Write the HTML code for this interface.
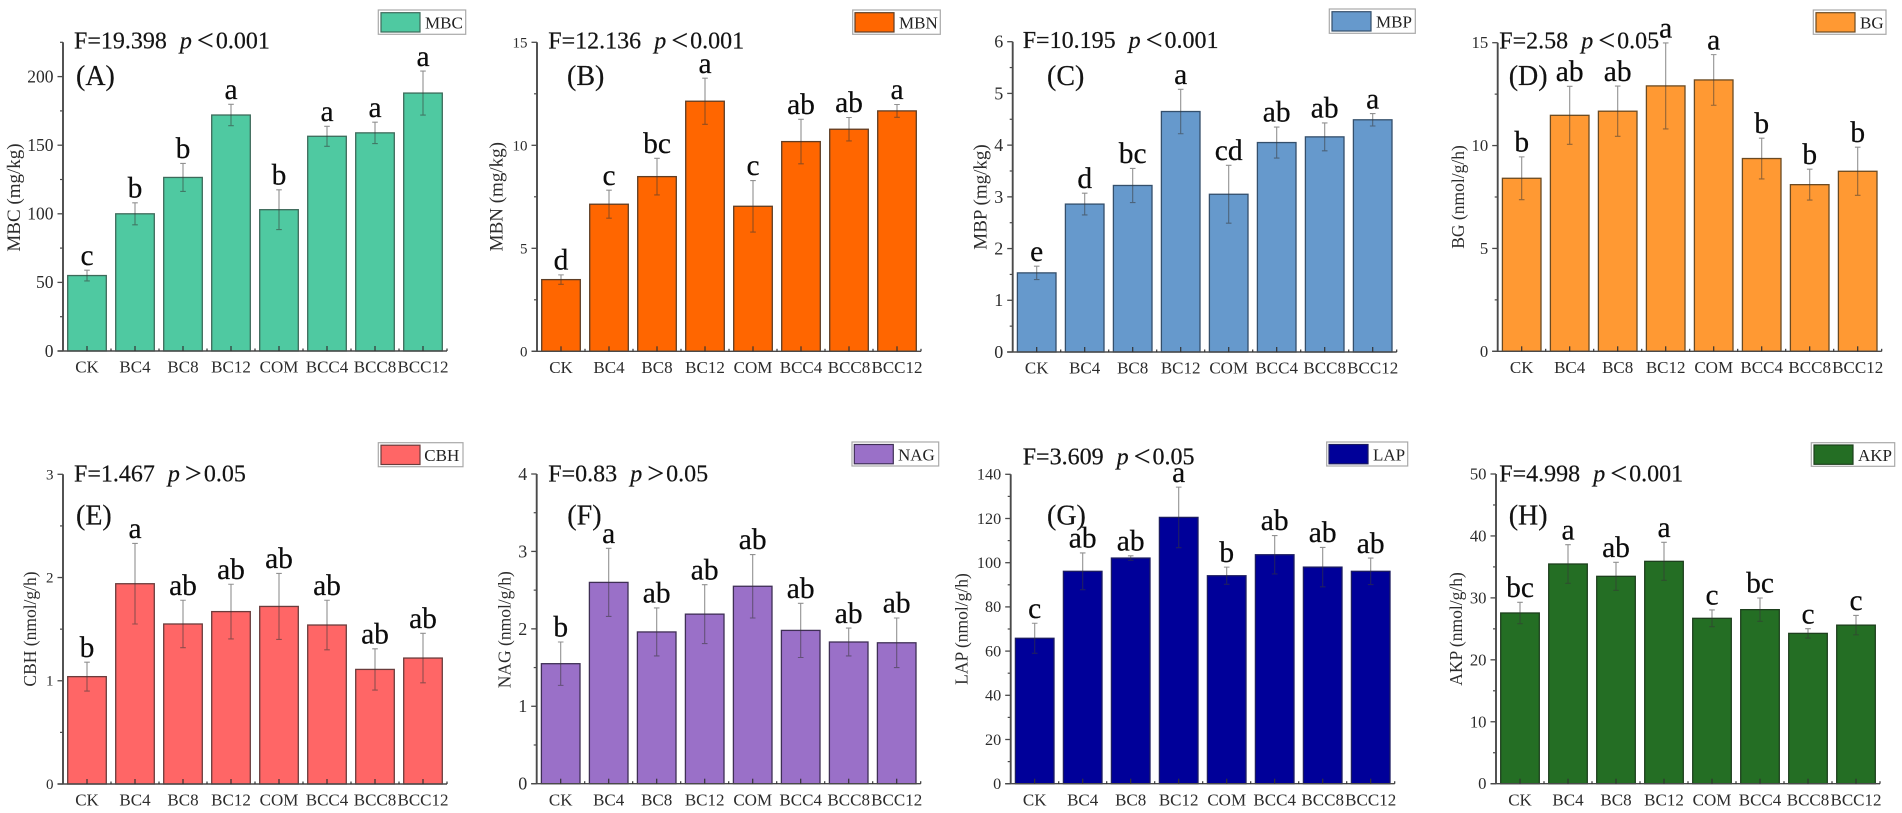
<!DOCTYPE html>
<html lang="en">
<head>
<meta charset="utf-8">
<title>Soil microbial biomass and enzyme activity bar charts</title>
<style>
  html, body { margin: 0; padding: 0; background: #fff; }
  svg { display: block; font-family: "Liberation Serif", "Times New Roman", serif; filter: blur(0.3px); }
  text { fill: #141414; }
  .stat { font-size: 24px; stroke: #141414; stroke-width: 0.2; }
  .cmp { font-size: 30px; }
  .panel-tag { font-size: 28px; stroke: #141414; stroke-width: 0.2; }
  .leg-text { font-size: 17px; fill: #222; }
  .leg-box { fill: #fff; stroke: #a9a9a9; stroke-width: 1.2; }
  .y-title { fill: #2c2c2c; text-anchor: middle; }
  .tick-label { fill: #2c2c2c; }
  .sig { font-size: 29.5px; fill: #0c0c0c; text-anchor: middle; stroke: #0c0c0c; stroke-width: 0.2; }
</style>
</head>
<body>
<svg id="figure" xmlns="http://www.w3.org/2000/svg" width="1902" height="813" viewBox="0 0 1902 813">
  <rect width="1902" height="813" fill="#fff"/>

  <g id="panel-mbc">
    <g class="marks"></g>
    <text class="stat" x="74" y="48.3">F=19.398<tspan dx="13" font-style="italic">p</tspan><tspan class="cmp" dx="5" dy="1.5">&lt;</tspan><tspan dx="2" dy="-1.5">0.001</tspan></text>
    <text class="panel-tag" x="76" y="85">(A)</text>
    <text class="y-title" font-size="19" transform="translate(20,197.5) rotate(-90)">MBC (mg/kg)</text>
    <g>
      <rect class="leg-box" x="378.3" y="10" width="87.4" height="24.3"/>
      <rect x="381" y="12.7" width="39" height="19.3" fill="#4fc9a1" stroke="#3d6a5a" stroke-width="1.2"/>
      <text class="leg-text" x="425" y="28.3">MBC</text>
    </g>
  </g>

  <g id="panel-mbn">
    <g class="marks"></g>
    <text class="stat" x="548.3" y="48.3">F=12.136<tspan dx="13" font-style="italic">p</tspan><tspan class="cmp" dx="5" dy="1.5">&lt;</tspan><tspan dx="2" dy="-1.5">0.001</tspan></text>
    <text class="panel-tag" x="567" y="85">(B)</text>
    <text class="y-title" font-size="19" transform="translate(502.7,196.7) rotate(-90)">MBN (mg/kg)</text>
    <g>
      <rect class="leg-box" x="852.7" y="10" width="87.6" height="24.3"/>
      <rect x="855" y="12.7" width="39" height="19.3" fill="#ff6600" stroke="#5f3d24" stroke-width="1.2"/>
      <text class="leg-text" x="899" y="28.3">MBN</text>
    </g>
  </g>

  <g id="panel-mbp">
    <g class="marks"></g>
    <text class="stat" x="1022.7" y="48">F=10.195<tspan dx="13" font-style="italic">p</tspan><tspan class="cmp" dx="5" dy="1.5">&lt;</tspan><tspan dx="2" dy="-1.5">0.001</tspan></text>
    <text class="panel-tag" x="1047" y="85">(C)</text>
    <text class="y-title" font-size="19" transform="translate(986.7,197) rotate(-90)">MBP (mg/kg)</text>
    <g>
      <rect class="leg-box" x="1329.3" y="9" width="86" height="24.3"/>
      <rect x="1332" y="11.7" width="39" height="19.3" fill="#6699cc" stroke="#344f6b" stroke-width="1.2"/>
      <text class="leg-text" x="1376" y="27.5">MBP</text>
    </g>
  </g>

  <g id="panel-bg">
    <g class="marks"></g>
    <text class="stat" x="1499.3" y="48.3">F=2.58<tspan dx="13" font-style="italic">p</tspan><tspan class="cmp" dx="5" dy="1.5">&lt;</tspan><tspan dx="2" dy="-1.5">0.05</tspan></text>
    <text class="panel-tag" x="1508.7" y="85">(D)</text>
    <text class="y-title" font-size="17.5" transform="translate(1464,197) rotate(-90)">BG (nmol/g/h)</text>
    <g>
      <rect class="leg-box" x="1813.3" y="10" width="72.7" height="24.3"/>
      <rect x="1816" y="12.7" width="39" height="19.3" fill="#ff9933" stroke="#6b4a22" stroke-width="1.2"/>
      <text class="leg-text" x="1860" y="28.3">BG</text>
    </g>
  </g>

  <g id="panel-cbh">
    <g class="marks"></g>
    <text class="stat" x="74" y="481.7">F=1.467<tspan dx="13" font-style="italic">p</tspan><tspan class="cmp" dx="5" dy="1.5">&gt;</tspan><tspan dx="2" dy="-1.5">0.05</tspan></text>
    <text class="panel-tag" x="76" y="524.3">(E)</text>
    <text class="y-title" font-size="17.5" transform="translate(36,629) rotate(-90)">CBH (nmol/g/h)</text>
    <g>
      <rect class="leg-box" x="378.3" y="442.7" width="84.7" height="24"/>
      <rect x="381" y="445.2" width="39" height="19.3" fill="#ff6666" stroke="#6a3c3c" stroke-width="1.2"/>
      <text class="leg-text" x="424.3" y="460.8">CBH</text>
    </g>
  </g>

  <g id="panel-nag">
    <g class="marks"></g>
    <text class="stat" x="548.3" y="481.7">F=0.83<tspan dx="13" font-style="italic">p</tspan><tspan class="cmp" dx="5" dy="1.5">&gt;</tspan><tspan dx="2" dy="-1.5">0.05</tspan></text>
    <text class="panel-tag" x="567.3" y="524.3">(F)</text>
    <text class="y-title" font-size="17.5" transform="translate(510.7,629.7) rotate(-90)">NAG (nmol/g/h)</text>
    <g>
      <rect class="leg-box" x="852" y="442" width="86.7" height="24"/>
      <rect x="854.3" y="444.5" width="39" height="19.3" fill="#9a70c8" stroke="#3f2f55" stroke-width="1.2"/>
      <text class="leg-text" x="898" y="460.3">NAG</text>
    </g>
  </g>

  <g id="panel-lap">
    <g class="marks"></g>
    <text class="stat" x="1022.7" y="464.3">F=3.609<tspan dx="13" font-style="italic">p</tspan><tspan class="cmp" dx="5" dy="1.5">&lt;</tspan><tspan dx="2" dy="-1.5">0.05</tspan></text>
    <text class="panel-tag" x="1047" y="524.3">(G)</text>
    <text class="y-title" font-size="17.5" transform="translate(967.3,629) rotate(-90)">LAP (nmol/g/h)</text>
    <g>
      <rect class="leg-box" x="1326.7" y="442" width="81" height="24"/>
      <rect x="1329" y="444.5" width="39" height="19.3" fill="#000099" stroke="#1c1c60" stroke-width="1.2"/>
      <text class="leg-text" x="1373" y="460.3">LAP</text>
    </g>
  </g>

  <g id="panel-akp">
    <g class="marks"></g>
    <text class="stat" x="1499.3" y="481.7">F=4.998<tspan dx="13" font-style="italic">p</tspan><tspan class="cmp" dx="5" dy="1.5">&lt;</tspan><tspan dx="2" dy="-1.5">0.001</tspan></text>
    <text class="panel-tag" x="1508.7" y="524.3">(H)</text>
    <text class="y-title" font-size="17.5" transform="translate(1462,629) rotate(-90)">AKP (nmol/g/h)</text>
    <g>
      <rect class="leg-box" x="1811.3" y="442.7" width="83.4" height="23.6"/>
      <rect x="1814" y="445" width="39" height="19.3" fill="#246e24" stroke="#1d3f1d" stroke-width="1.2"/>
      <text class="leg-text" x="1858" y="460.8">AKP</text>
    </g>
  </g>
</svg>

<script>
// Shared categories
const categories = ["CK", "BC4", "BC8", "BC12", "COM", "BCC4", "BCC8", "BCC12"];

// Panel A: MBC
const mbcValues = [55, 100, 126.5, 172, 103, 156.5, 159, 188];
const mbcErrors = [3.9, 8, 10.2, 7.8, 14.5, 7.3, 7.8, 16];
const mbcLetters = ["c", "b", "b", "a", "b", "a", "a", "a"];
const mbcTicks = [0, 50, 100, 150, 200];

// Panel B: MBN
const mbnValues = [3.48, 7.14, 8.48, 12.14, 7.04, 10.18, 10.78, 11.67];
const mbnErrors = [0.23, 0.68, 0.89, 1.12, 1.25, 1.08, 0.57, 0.31];
const mbnLetters = ["d", "c", "bc", "a", "c", "ab", "ab", "a"];
const mbnTicks = [0, 5, 10, 15];

// Panel C: MBP
const mbpValues = [1.53, 2.86, 3.22, 4.65, 3.05, 4.05, 4.16, 4.49];
const mbpErrors = [0.13, 0.21, 0.33, 0.43, 0.56, 0.3, 0.27, 0.12];
const mbpLetters = ["e", "d", "bc", "a", "cd", "ab", "ab", "a"];
const mbpTicks = [0, 1, 2, 3, 4, 5, 6];

// Panel D: BG
const bgValues = [8.41, 11.47, 11.67, 12.9, 13.19, 9.37, 8.1, 8.75];
const bgErrors = [1.04, 1.41, 1.22, 2.09, 1.23, 0.99, 0.75, 1.17];
const bgLetters = ["b", "ab", "ab", "a", "a", "b", "b", "b"];
const bgTicks = [0, 5, 10, 15];

// Panel E: CBH
const cbhValues = [1.04, 1.94, 1.55, 1.67, 1.72, 1.54, 1.11, 1.22];
const cbhErrors = [0.14, 0.39, 0.23, 0.265, 0.32, 0.24, 0.2, 0.24];
const cbhLetters = ["b", "a", "ab", "ab", "ab", "ab", "ab", "ab"];
const cbhTicks = [0, 1, 2, 3];

// Panel F: NAG
const nagValues = [1.55, 2.6, 1.96, 2.19, 2.55, 1.98, 1.83, 1.82];
const nagErrors = [0.28, 0.44, 0.31, 0.38, 0.41, 0.35, 0.18, 0.32];
const nagLetters = ["b", "a", "ab", "ab", "ab", "ab", "ab", "ab"];
const nagTicks = [0, 1, 2, 3, 4];

// Panel G: LAP
const lapValues = [65.8, 96.1, 102.1, 120.5, 94.1, 103.6, 98, 96.1];
const lapErrors = [6.8, 8.3, 1, 13.7, 3.9, 8.7, 8.9, 6];
const lapLetters = ["c", "ab", "ab", "a", "b", "ab", "ab", "ab"];
const lapTicks = [0, 20, 40, 60, 80, 100, 120, 140];

// Panel H: AKP
const akpValues = [27.56, 35.47, 33.48, 35.9, 26.7, 28.1, 24.27, 25.6];
const akpErrors = [1.72, 3.12, 2.26, 3.07, 1.35, 1.88, 0.75, 1.56];
const akpLetters = ["bc", "a", "ab", "a", "c", "bc", "c", "c"];
const akpTicks = [0, 10, 20, 30, 40, 50];

const SVG_NS = "http://www.w3.org/2000/svg";
const PITCH = 48;
const BAR_WIDTH = 38.6;

// Layout and styling for each panel; data comes from the arrays above.
const panelLayouts = [
  { id: "panel-mbc", key: "mbc", values: mbcValues, errors: mbcErrors, letters: mbcLetters, ticks: mbcTicks, yMax: 225, axisX: 63, top: 42.3, base: 351, tickFont: 17.5, fill: "#4fc9a1", edge: "#3d6a5a" },
  { id: "panel-mbn", key: "mbn", values: mbnValues, errors: mbnErrors, letters: mbnLetters, ticks: mbnTicks, yMax: 15, axisX: 537, top: 42.3, base: 351.3, tickFont: 15, fill: "#ff6600", edge: "#5f3d24" },
  { id: "panel-mbp", key: "mbp", values: mbpValues, errors: mbpErrors, letters: mbpLetters, ticks: mbpTicks, yMax: 6, axisX: 1012.7, top: 41.7, base: 352, tickFont: 18, fill: "#6699cc", edge: "#344f6b" },
  { id: "panel-bg", key: "bg", values: bgValues, errors: bgErrors, letters: bgLetters, ticks: bgTicks, yMax: 15, axisX: 1497.7, top: 42.7, base: 351.3, tickFont: 16.7, fill: "#ff9933", edge: "#6b4a22" },
  { id: "panel-cbh", key: "cbh", values: cbhValues, errors: cbhErrors, letters: cbhLetters, ticks: cbhTicks, yMax: 3, axisX: 63, top: 474.3, base: 784, tickFont: 15, fill: "#ff6666", edge: "#6a3c3c" },
  { id: "panel-nag", key: "nag", values: nagValues, errors: nagErrors, letters: nagLetters, ticks: nagTicks, yMax: 4, axisX: 536.7, top: 474, base: 783.7, tickFont: 18, fill: "#9a70c8", edge: "#3f2f55" },
  { id: "panel-lap", key: "lap", values: lapValues, errors: lapErrors, letters: lapLetters, ticks: lapTicks, yMax: 140, axisX: 1010.7, top: 474.3, base: 783.7, tickFont: 16.2, fill: "#000099", edge: "#1c1c60" },
  { id: "panel-akp", key: "akp", values: akpValues, errors: akpErrors, letters: akpLetters, ticks: akpTicks, yMax: 50, axisX: 1496, top: 474, base: 783.7, tickFont: 16.7, fill: "#246e24", edge: "#1d3f1d" }
];

function draw(tag, parent, attrs) {
  const el = document.createElementNS(SVG_NS, tag);
  Object.keys(attrs).forEach(function (k) { el.setAttribute(k, attrs[k]); });
  parent.appendChild(el);
  return el;
}

function renderPanel(p) {
  const root = document.querySelector("#" + p.id + " .marks");
  const xScale = function (i) { return p.axisX + PITCH * (i + 0.5); };
  const yScale = function (v) { return p.base - (v / p.yMax) * (p.base - p.top); };
  const axisColor = "#4a4a4a";

  // bars
  p.values.forEach(function (v, i) {
    const bar = draw("rect", root, {
      x: xScale(i) - BAR_WIDTH / 2, y: yScale(v), width: BAR_WIDTH, height: p.base - yScale(v),
      fill: p.fill, stroke: p.edge, "stroke-width": 1.3
    });
    
    
  });

  // error bars
  p.errors.forEach(function (e, i) {
    const cx = xScale(i);
    const hi = yScale(p.values[i] + e);
    const lo = yScale(p.values[i] - e);
    const err = draw("path", root, {
      d: "M" + (cx - 2.8) + " " + hi + "H" + (cx + 2.8) + "M" + cx + " " + hi + "V" + lo + "M" + (cx - 2.8) + " " + lo + "H" + (cx + 2.8),
      fill: "none", stroke: "rgba(55,55,55,0.55)", "stroke-width": 1.1
    });
    
    
  });

  // significance letters
  p.letters.forEach(function (s, i) {
    const letter = draw("text", root, { class: "sig", x: xScale(i), y: yScale(p.values[i] + p.errors[i]) - 5.3 });
    letter.textContent = s;
    
    
  });

  // y axis with major and minor ticks
  const yAxis = draw("line", root, { x1: p.axisX, x2: p.axisX, y1: p.top, y2: p.base, stroke: axisColor, "stroke-width": 1.9 });
  
  

  const step = p.ticks[1] - p.ticks[0];
  for (let n = 1; (n - 0.5) * step <= p.yMax; n++) {
    const minorY = yScale((n - 0.5) * step);
    const minor = draw("line", root, { x1: p.axisX - 3, x2: p.axisX, y1: minorY, y2: minorY, stroke: axisColor, "stroke-width": 1.2 });
    
    
  }

  p.ticks.forEach(function (t) {
    const tickY = yScale(t);
    const tick = draw("line", root, { x1: p.axisX - 5.5, x2: p.axisX, y1: tickY, y2: tickY, stroke: axisColor, "stroke-width": 1.3 });
    
    
    const label = draw("text", root, { class: "tick-label", x: p.axisX - 9.5, y: tickY + p.tickFont * 0.33, "text-anchor": "end", "font-size": p.tickFont });
    label.textContent = t;
    
    
  });

  // x axis with inward ticks
  const xEnd = p.axisX + PITCH * categories.length;
  const xAxis = draw("line", root, { x1: p.axisX - 5.5, x2: xEnd, y1: p.base, y2: p.base, stroke: axisColor, "stroke-width": 1.4 });
  
  

  categories.forEach(function (c, i) {
    const cx = xScale(i);
    const tick = draw("line", root, { x1: cx, x2: cx, y1: p.base - 5, y2: p.base, stroke: "#333", "stroke-width": 1.2 });
    
    
    const minor = draw("line", root, { x1: cx + PITCH / 2, x2: cx + PITCH / 2, y1: p.base - 2.5, y2: p.base, stroke: "#333", "stroke-width": 1.2 });
    
    
    const label = draw("text", root, { class: "tick-label", x: cx, y: p.base + 21.7, "text-anchor": "middle", "font-size": 17 });
    label.textContent = c;
    
    
  });
}

panelLayouts.forEach(renderPanel);
</script>
</body>
</html>
